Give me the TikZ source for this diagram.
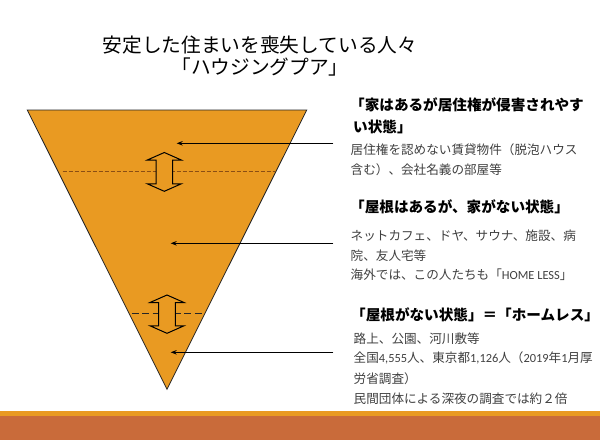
\documentclass[tikz,border=0pt]{standalone}
\usepackage{fontspec}
\setmainfont{Noto Sans CJK JP}
\newfontfamily\latn{Carlito}
\usetikzlibrary{arrows.meta}
\definecolor{tri}{HTML}{E99A22}
\definecolor{brn}{HTML}{C96B3A}
\definecolor{bodytxt}{HTML}{404040}
\definecolor{dashone}{HTML}{8A4E14}
\newcommand\DArrow[3]{\filldraw[darr] (#1,#2) -- (#1+17,#2+7.5) -- (#1+8.3,#2+7.5) -- (#1+8.3,#3-7.5) -- (#1+17,#3-7.5) -- (#1,#3) -- (#1-17,#3-7.5) -- (#1-8.3,#3-7.5) -- (#1-8.3,#2+7.5) -- (#1-17,#2+7.5) -- cycle;}
\newcommand\lt[1]{{\latn\fontsize{12.4}{16}\selectfont #1}}
\begin{document}
\begin{tikzpicture}[x=1pt,y=-1pt,
  titletxt/.style={font=\fontsize{19.7}{22}\selectfont, inner sep=0pt},
  headtxt/.style={font=\fontsize{14.6}{18}\selectfont\bfseries, anchor=west, inner sep=0pt, text=black},
  bodyline/.style={font=\fontsize{12.6}{16}\selectfont, anchor=west, inner sep=0pt, text=bodytxt},
  pointer/.style={line width=0.9pt, -{Stealth[length=6pt,width=4.5pt]}},
  darr/.style={fill=tri, draw=black, line width=1pt, line join=miter}]
\useasboundingbox (0,0) rectangle (600,440);
\fill[white] (0,0) rectangle (600,440);
% bottom band
\fill[brn] (0,415.7) rectangle (600,440);
\fill[tri] (0,411) rectangle (600,415.7);
% title
\node[titletxt] (title1) at (260,45) {安定した住まいを喪失している人々};
\node[titletxt] (title2) at (260,67) {「ハウジングプア」};
% inverted triangle
\coordinate (tl) at (27.3,110);
\coordinate (tr) at (306.7,110);
\coordinate (tb) at (167,389.3);
\filldraw[fill=tri, draw=black!85, line width=0.8pt] (tl) -- (tr) -- (tb) -- cycle;
% dashed boundaries
\coordinate (d1l) at (62.7,171.7); \coordinate (d1r) at (275,171.7);
\coordinate (d2l) at (131.7,313.3); \coordinate (d2r) at (202.7,313.3);
\draw[dashone, line width=1.3pt, dash pattern=on 4pt off 2pt] (d1l) -- (d1r);
\draw[black!85, line width=1pt, dash pattern=on 7pt off 3.5pt] (d2l) -- (d2r);
% double arrows
\DArrow{164.3}{152.5}{191.3}
\DArrow{167}{295}{333.3}
% pointers
\coordinate (s1) at (333.3,143.3); \coordinate (t1) at (176.7,143.3);
\coordinate (s2) at (333.3,243.3); \coordinate (t2) at (170.7,243.3);
\coordinate (s3) at (333.3,352.3); \coordinate (t3) at (170.7,352.3);
\draw[pointer] (s1) -- (t1);
\draw[pointer] (s2) -- (t2);
\draw[pointer] (s3) -- (t3);
% section 1
\node[headtxt] (h1a) at (350,105) {「家はあるが居住権が侵害されやす};
\node[headtxt] (h1b) at (353,126.7) {い状態」};
\node[bodyline] (b1a) at (350.5,149.3) {居住権を認めない賃貸物件（脱泡ハウス};
\node[bodyline] (b1b) at (350.5,170) {含む）、会社名義の部屋等};
% section 2
\node[headtxt] (h2) at (350,207.3) {「屋根はあるが、家がない状態」};
\node[bodyline] (b2a) at (350.5,235.3) {ネットカフェ、ドヤ、サウナ、施設、病};
\node[bodyline] (b2b) at (350.5,255.7) {院、友人宅等};
\node[bodyline] (b2c) at (350.5,275) {海外では、この人たちも「\lt{HOME LESS}」};
% section 3
\node[headtxt] (h3) at (351,315) {「屋根がない状態」＝「ホームレス」};
\node[bodyline] (b3a) at (353.5,338.3) {路上、公園、河川敷等};
\node[bodyline] (b3b) at (353.5,358.3) {全国\lt{4,555}人、東京都\lt{1,126}人（\lt{2019}年\lt{1}月厚};
\node[bodyline] (b3c) at (353.5,378.3) {労省調査）};
\node[bodyline] (b3d) at (353.5,398.3) {民間団体による深夜の調査では約２倍};
\end{tikzpicture}
\end{document}
